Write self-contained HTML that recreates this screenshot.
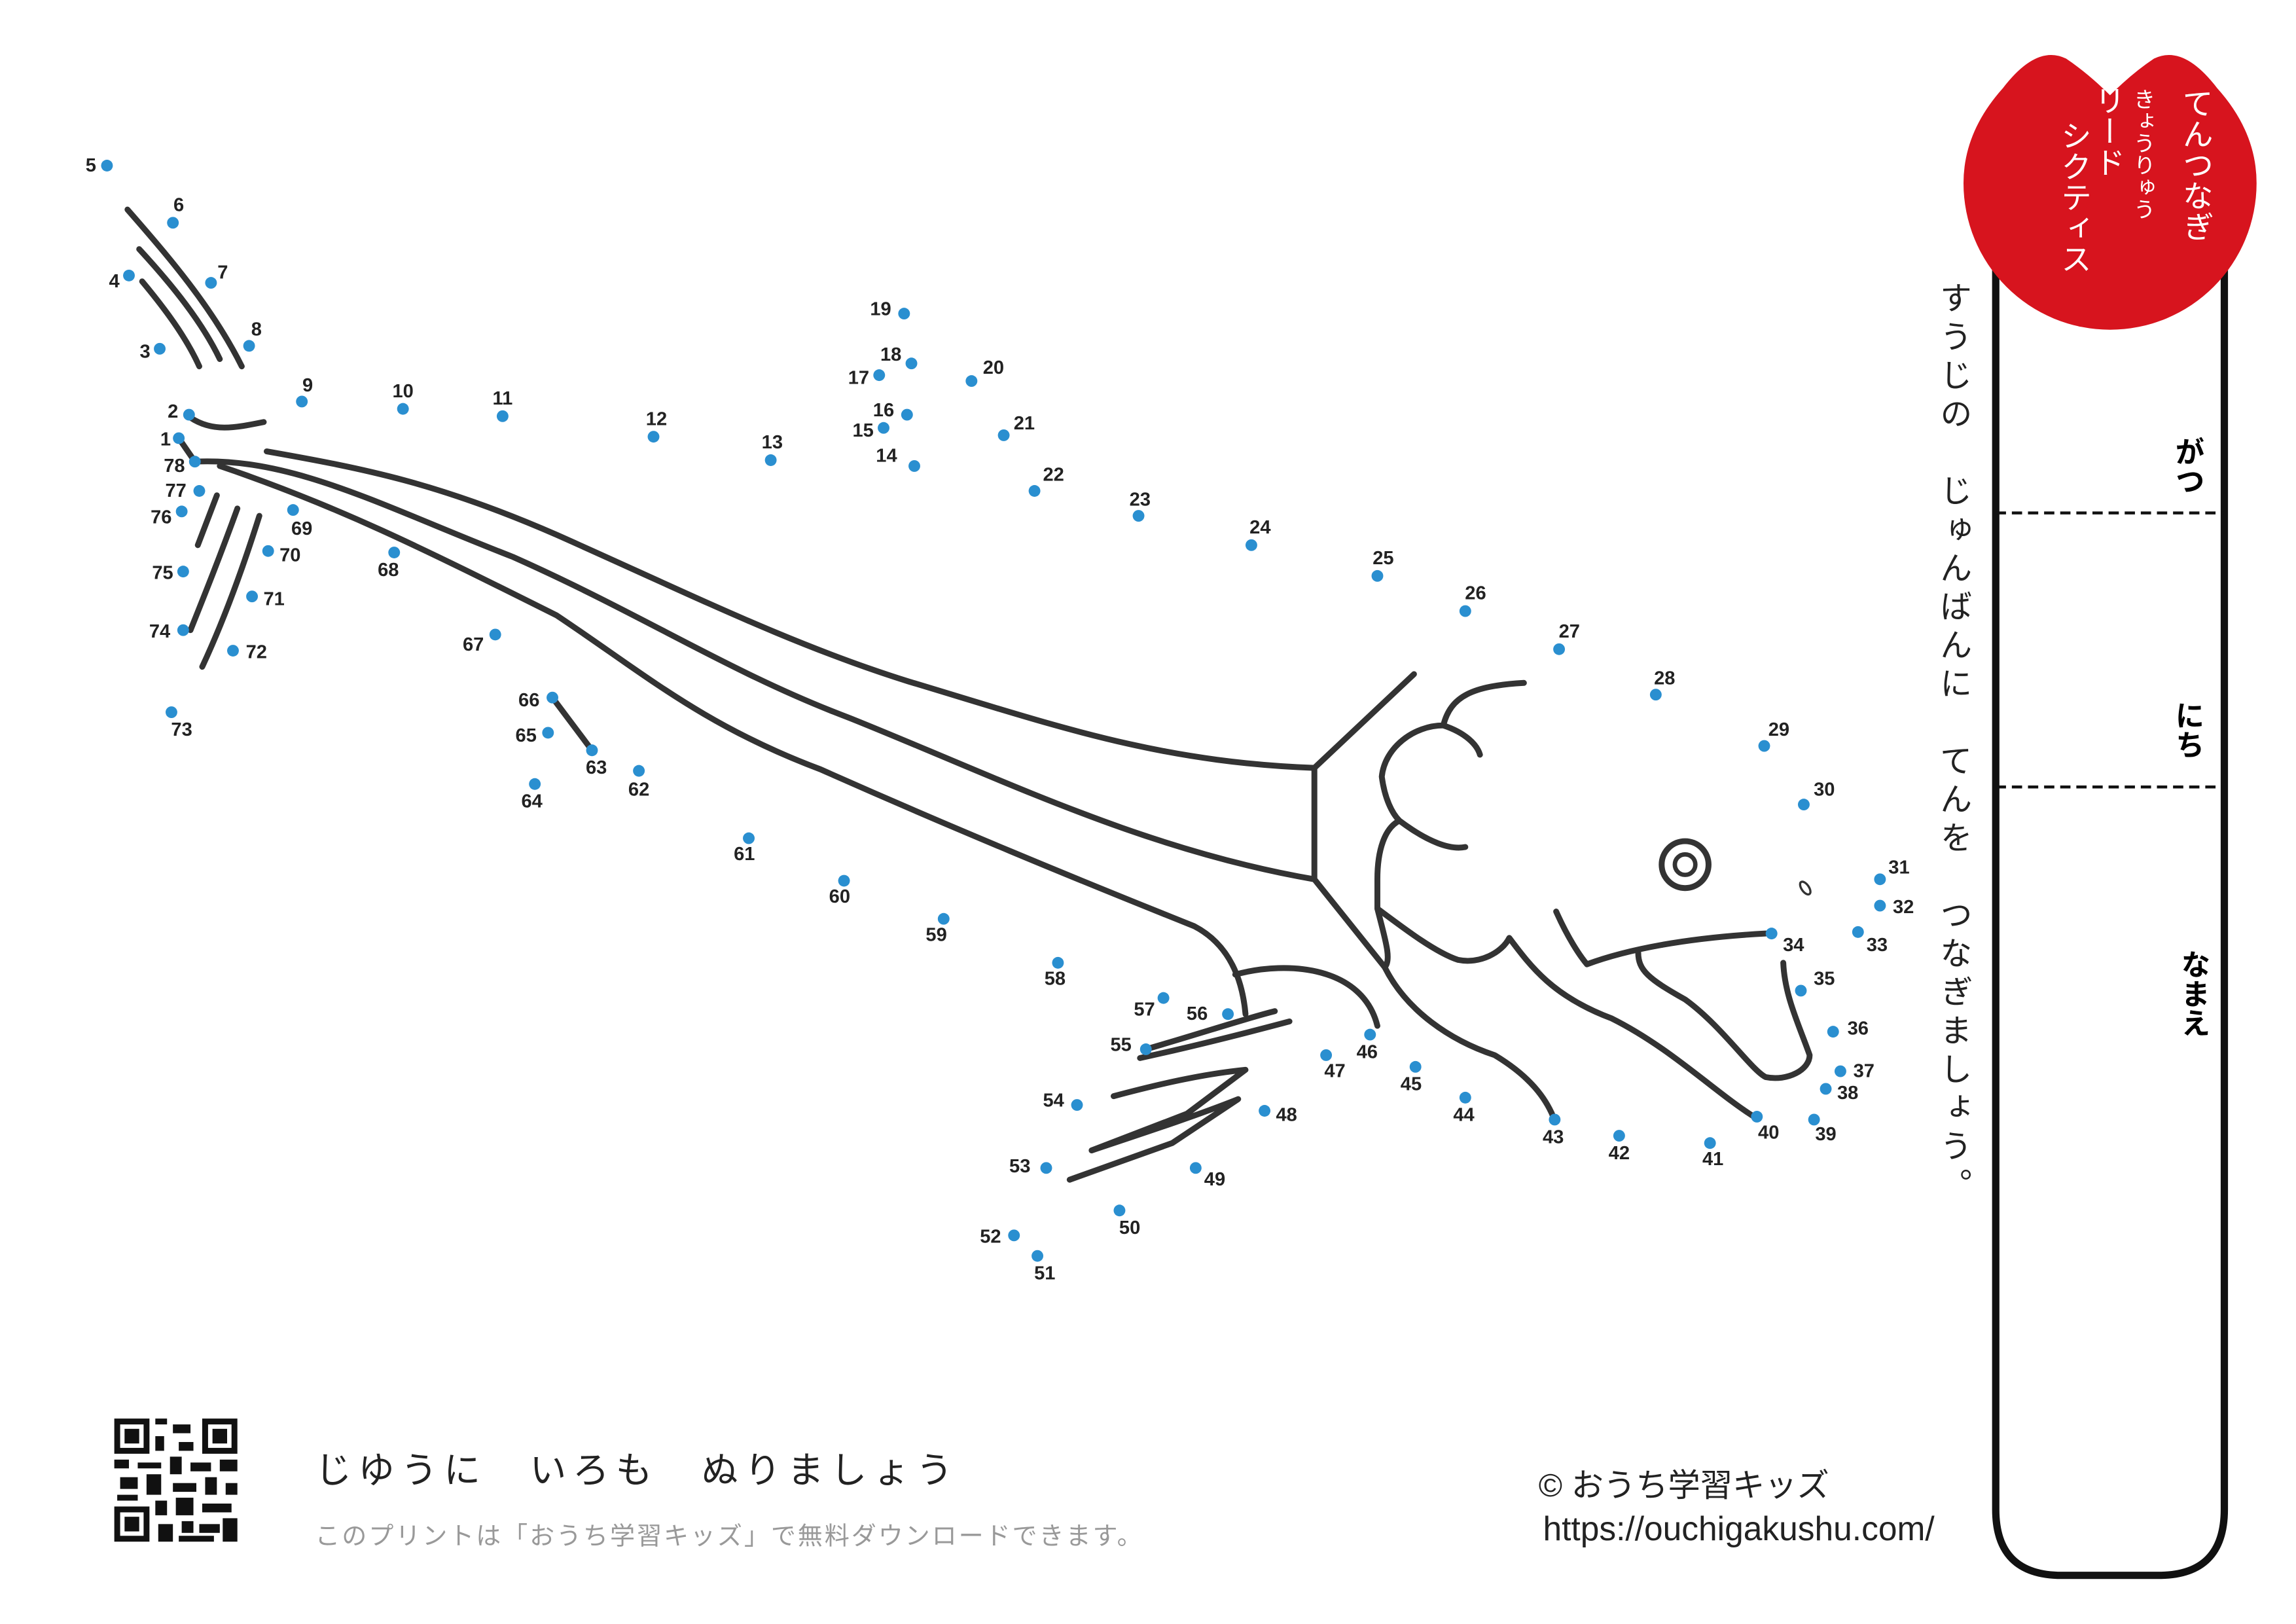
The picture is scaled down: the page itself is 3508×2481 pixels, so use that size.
<!DOCTYPE html>
<html><head><meta charset="utf-8">
<style>
html,body{margin:0;padding:0;background:#fff;}
body{width:3508px;height:2481px;overflow:hidden;position:relative;}
#w{position:absolute;left:0;top:0;width:1567px;height:1108px;transform:scale(2.2388,2.2388);transform-origin:0 0;font-family:"Liberation Sans","Noto Sans CJK JP",sans-serif;}
.v{position:absolute;writing-mode:vertical-rl;white-space:nowrap;}
.t{position:absolute;white-space:nowrap;}
</style></head><body><div id="w">
<svg width="1567" height="1108" viewBox="0 0 1567 1108" style="position:absolute;left:0;top:0">
<g fill="none" stroke="#333" stroke-width="4" stroke-linecap="round" stroke-linejoin="round">
<path d="M87,143 C115,175 145,210 165,250"/>
<path d="M95,170 C118,195 138,220 150,245"/>
<path d="M97,192 C112,210 127,230 136,250"/>
<path d="M130,285 C145,295 160,292 180,288"/>
<path d="M122,299 L133,315"/>
<path d="M148,338 L135,372"/>
<path d="M162,347 C150,380 140,405 130,430"/>
<path d="M177,352 C165,390 152,425 138,455"/>
<path d="M377,476 L404,512"/>
<path d="M182,308 C250,320 300,330 380,365 C470,405 540,440 620,465 C720,495 790,520 897,524"/>
<path d="M133,315 C200,312 260,345 350,380 C440,420 500,460 580,490 C680,530 780,580 897,600"/>
<path d="M150,318 C230,345 290,375 380,420 C440,460 480,495 560,525 C650,565 730,598 815,632 C840,645 848,670 850,692"/>
<path d="M897,524 L897,600 L945,660"/>
<path d="M897,524 L965,460"/>
<path d="M1040,466 C1005,468 990,475 985,495 C1000,500 1008,508 1010,515 M985,495 C965,495 945,510 943,530 C945,545 950,555 955,560 C975,575 990,580 1000,578 M955,560 C945,565 940,580 940,600 L940,620 C945,640 950,655 945,660"/>
<path d="M940,620 C960,635 980,650 995,655 C1010,658 1025,650 1030,640 C1045,660 1060,680 1100,695 C1140,715 1170,745 1197,762"/>
<path d="M945,660 C960,690 990,710 1020,720 C1045,735 1055,750 1060,762"/>
<path d="M1062,622 C1070,640 1078,652 1083,658 C1110,648 1150,640 1205,637"/>
<path d="M1118,650 C1118,662 1125,668 1150,682 C1175,700 1195,730 1205,735 C1220,738 1235,730 1235,720 C1228,700 1218,680 1217,657"/>
<path d="M843,665 C880,655 930,660 940,700"/>
<path d="M778,722 C810,715 850,705 880,697"/>
<path d="M760,748 C790,740 820,733 850,730 L810,760 L745,785"/>
<path d="M745,785 C790,770 820,760 845,750 L800,780 L730,805"/>
<path d="M782,716 C820,705 850,695 870,690"/>
</g>
<circle cx="1150" cy="590" r="16" fill="none" stroke="#333" stroke-width="4"/>
<circle cx="1150" cy="590" r="7" fill="none" stroke="#333" stroke-width="3"/>
<ellipse cx="1232" cy="606" rx="2.5" ry="5" transform="rotate(-35 1232 606)" fill="none" stroke="#333" stroke-width="1.5"/>
<g fill="#2a8fd0">
<circle cx="122" cy="299" r="4"/><circle cx="129" cy="283" r="4"/><circle cx="109" cy="238" r="4"/><circle cx="88" cy="188" r="4"/><circle cx="73" cy="113" r="4"/><circle cx="118" cy="152" r="4"/><circle cx="144" cy="193" r="4"/><circle cx="170" cy="236" r="4"/><circle cx="206" cy="274" r="4"/><circle cx="275" cy="279" r="4"/><circle cx="343" cy="284" r="4"/><circle cx="446" cy="298" r="4"/><circle cx="526" cy="314" r="4"/><circle cx="624" cy="318" r="4"/><circle cx="603" cy="292" r="4"/><circle cx="619" cy="283" r="4"/><circle cx="600" cy="256" r="4"/><circle cx="622" cy="248" r="4"/><circle cx="617" cy="214" r="4"/><circle cx="663" cy="260" r="4"/><circle cx="685" cy="297" r="4"/><circle cx="706" cy="335" r="4"/><circle cx="777" cy="352" r="4"/><circle cx="854" cy="372" r="4"/><circle cx="940" cy="393" r="4"/><circle cx="1000" cy="417" r="4"/><circle cx="1064" cy="443" r="4"/><circle cx="1130" cy="474" r="4"/><circle cx="1204" cy="509" r="4"/><circle cx="1231" cy="549" r="4"/><circle cx="1283" cy="600" r="4"/><circle cx="1283" cy="618" r="4"/><circle cx="1268" cy="636" r="4"/><circle cx="1209" cy="637" r="4"/><circle cx="1229" cy="676" r="4"/><circle cx="1251" cy="704" r="4"/><circle cx="1256" cy="731" r="4"/><circle cx="1246" cy="743" r="4"/><circle cx="1238" cy="764" r="4"/><circle cx="1199" cy="762" r="4"/><circle cx="1167" cy="780" r="4"/><circle cx="1105" cy="775" r="4"/><circle cx="1061" cy="764" r="4"/><circle cx="1000" cy="749" r="4"/><circle cx="966" cy="728" r="4"/><circle cx="935" cy="706" r="4"/><circle cx="905" cy="720" r="4"/><circle cx="863" cy="758" r="4"/><circle cx="816" cy="797" r="4"/><circle cx="764" cy="826" r="4"/><circle cx="708" cy="857" r="4"/><circle cx="692" cy="843" r="4"/><circle cx="714" cy="797" r="4"/><circle cx="735" cy="754" r="4"/><circle cx="782" cy="716" r="4"/><circle cx="838" cy="692" r="4"/><circle cx="794" cy="681" r="4"/><circle cx="722" cy="657" r="4"/><circle cx="644" cy="627" r="4"/><circle cx="576" cy="601" r="4"/><circle cx="511" cy="572" r="4"/><circle cx="436" cy="526" r="4"/><circle cx="404" cy="512" r="4"/><circle cx="365" cy="535" r="4"/><circle cx="374" cy="500" r="4"/><circle cx="377" cy="476" r="4"/><circle cx="338" cy="433" r="4"/><circle cx="269" cy="377" r="4"/><circle cx="200" cy="348" r="4"/><circle cx="183" cy="376" r="4"/><circle cx="172" cy="407" r="4"/><circle cx="159" cy="444" r="4"/><circle cx="117" cy="486" r="4"/><circle cx="125" cy="430" r="4"/><circle cx="125" cy="390" r="4"/><circle cx="124" cy="349" r="4"/><circle cx="136" cy="335" r="4"/><circle cx="133" cy="315" r="4"/>
</g>
<g font-family="Liberation Sans, sans-serif" font-weight="bold" font-size="13" fill="#222" text-anchor="middle" dominant-baseline="central">
<text x="113" y="300">1</text><text x="118" y="281">2</text><text x="99" y="240">3</text><text x="78" y="192">4</text><text x="62" y="113">5</text><text x="122" y="140">6</text><text x="152" y="186">7</text><text x="175" y="225">8</text><text x="210" y="263">9</text><text x="275" y="267">10</text><text x="343" y="272">11</text><text x="448" y="286">12</text><text x="527" y="302">13</text><text x="605" y="311">14</text><text x="589" y="294">15</text><text x="603" y="280">16</text><text x="586" y="258">17</text><text x="608" y="242">18</text><text x="601" y="211">19</text><text x="678" y="251">20</text><text x="699" y="289">21</text><text x="719" y="324">22</text><text x="778" y="341">23</text><text x="860" y="360">24</text><text x="944" y="381">25</text><text x="1007" y="405">26</text><text x="1071" y="431">27</text><text x="1136" y="463">28</text><text x="1214" y="498">29</text><text x="1245" y="539">30</text><text x="1296" y="592">31</text><text x="1299" y="619">32</text><text x="1281" y="645">33</text><text x="1224" y="645">34</text><text x="1245" y="668">35</text><text x="1268" y="702">36</text><text x="1272" y="731">37</text><text x="1261" y="746">38</text><text x="1246" y="774">39</text><text x="1207" y="773">40</text><text x="1169" y="791">41</text><text x="1105" y="787">42</text><text x="1060" y="776">43</text><text x="999" y="761">44</text><text x="963" y="740">45</text><text x="933" y="718">46</text><text x="911" y="731">47</text><text x="878" y="761">48</text><text x="829" y="805">49</text><text x="771" y="838">50</text><text x="713" y="869">51</text><text x="676" y="844">52</text><text x="696" y="796">53</text><text x="719" y="751">54</text><text x="765" y="713">55</text><text x="817" y="692">56</text><text x="781" y="689">57</text><text x="720" y="668">58</text><text x="639" y="638">59</text><text x="573" y="612">60</text><text x="508" y="583">61</text><text x="436" y="539">62</text><text x="407" y="524">63</text><text x="363" y="547">64</text><text x="359" y="502">65</text><text x="361" y="478">66</text><text x="323" y="440">67</text><text x="265" y="389">68</text><text x="206" y="361">69</text><text x="198" y="379">70</text><text x="187" y="409">71</text><text x="175" y="445">72</text><text x="124" y="498">73</text><text x="109" y="431">74</text><text x="111" y="391">75</text><text x="110" y="353">76</text><text x="120" y="335">77</text><text x="119" y="318">78</text>
</g>
<path d="M1362,150 L1362,1030 Q1362,1075 1407,1075 L1473,1075 Q1518,1075 1518,1030 L1518,150" fill="none" stroke="#111" stroke-width="5"/>
<line x1="1362" y1="350" x2="1518" y2="350" stroke="#111" stroke-width="2" stroke-dasharray="7,4"/>
<line x1="1362" y1="537" x2="1518" y2="537" stroke="#111" stroke-width="2" stroke-dasharray="7,4"/>
<path d="M1367,60 Q1390,30 1410,40 Q1425,50 1440,65 Q1455,50 1470,40 Q1490,30 1513,60 Q1540,90 1540,125 A100,100 0 1 1 1340,125 Q1340,90 1367,60 Z" fill="#d7141e"/>
<g fill="#111">
<rect x="78" y="968" width="84" height="84" fill="#fff"/>
<rect x="78" y="968" width="24" height="24"/><rect x="82" y="972" width="16" height="16" fill="#fff"/><rect x="85" y="975" width="10" height="10"/>
<rect x="138" y="968" width="24" height="24"/><rect x="142" y="972" width="16" height="16" fill="#fff"/><rect x="145" y="975" width="10" height="10"/>
<rect x="78" y="1028" width="24" height="24"/><rect x="82" y="1032" width="16" height="16" fill="#fff"/><rect x="85" y="1035" width="10" height="10"/>
<rect x="106" y="968" width="8" height="4"/><rect x="118" y="972" width="12" height="6"/><rect x="106" y="980" width="6" height="10"/><rect x="122" y="984" width="10" height="6"/>
<rect x="78" y="996" width="10" height="6"/><rect x="94" y="998" width="16" height="4"/><rect x="116" y="994" width="8" height="12"/><rect x="130" y="998" width="14" height="6"/><rect x="150" y="996" width="12" height="8"/>
<rect x="82" y="1008" width="12" height="8"/><rect x="100" y="1006" width="10" height="14"/><rect x="118" y="1012" width="16" height="6"/><rect x="140" y="1008" width="8" height="12"/><rect x="154" y="1012" width="8" height="8"/>
<rect x="80" y="1020" width="14" height="4"/><rect x="106" y="1024" width="8" height="10"/><rect x="120" y="1022" width="12" height="12"/><rect x="138" y="1026" width="20" height="6"/>
<rect x="108" y="1040" width="10" height="12"/><rect x="124" y="1038" width="8" height="8"/><rect x="136" y="1040" width="14" height="6"/><rect x="152" y="1036" width="10" height="16"/><rect x="122" y="1048" width="24" height="4"/>
</g>
</svg>
<div class="v" style="left:1488px;top:60px;font-size:21px;color:#fff;line-height:1">てんつなぎ</div>
<div class="v" style="left:1455px;top:60px;font-size:15px;color:#fff;line-height:1">きょうりゅう</div>
<div class="v" style="left:1428px;top:58px;font-size:21px;color:#fff;line-height:1">リード</div>
<div class="v" style="left:1405px;top:82px;font-size:21px;color:#fff;line-height:1">シクティス</div>
<div class="v" style="left:1482px;top:298px;font-size:20px;font-weight:bold;line-height:1">がつ</div>
<div class="v" style="left:1482px;top:478px;font-size:20px;font-weight:bold;line-height:1">にち</div>
<div class="v" style="left:1486px;top:648px;font-size:20px;font-weight:bold;line-height:1">なまえ</div>
<div class="v" style="left:1322px;top:192px;font-size:22px;line-height:1;letter-spacing:4.3px;color:#222">すうじの　じゅんばんに　てんを　つなぎましょう。</div>
<div class="t" style="left:215px;top:984px;font-size:25px;letter-spacing:4.3px;color:#222">じゆうに　いろも　ぬりましょう</div>
<div class="t" style="left:215px;top:1034px;font-size:17px;letter-spacing:1.3px;color:#999">このプリントは「おうち学習キッズ」で無料ダウンロードできます。</div>
<div class="t" style="left:1050px;top:996px;font-size:22px;color:#222">© おうち学習キッズ</div>
<div class="t" style="left:1053px;top:1030px;font-size:23px;color:#222">https://ouchigakushu.com/</div>
</div></body></html>
